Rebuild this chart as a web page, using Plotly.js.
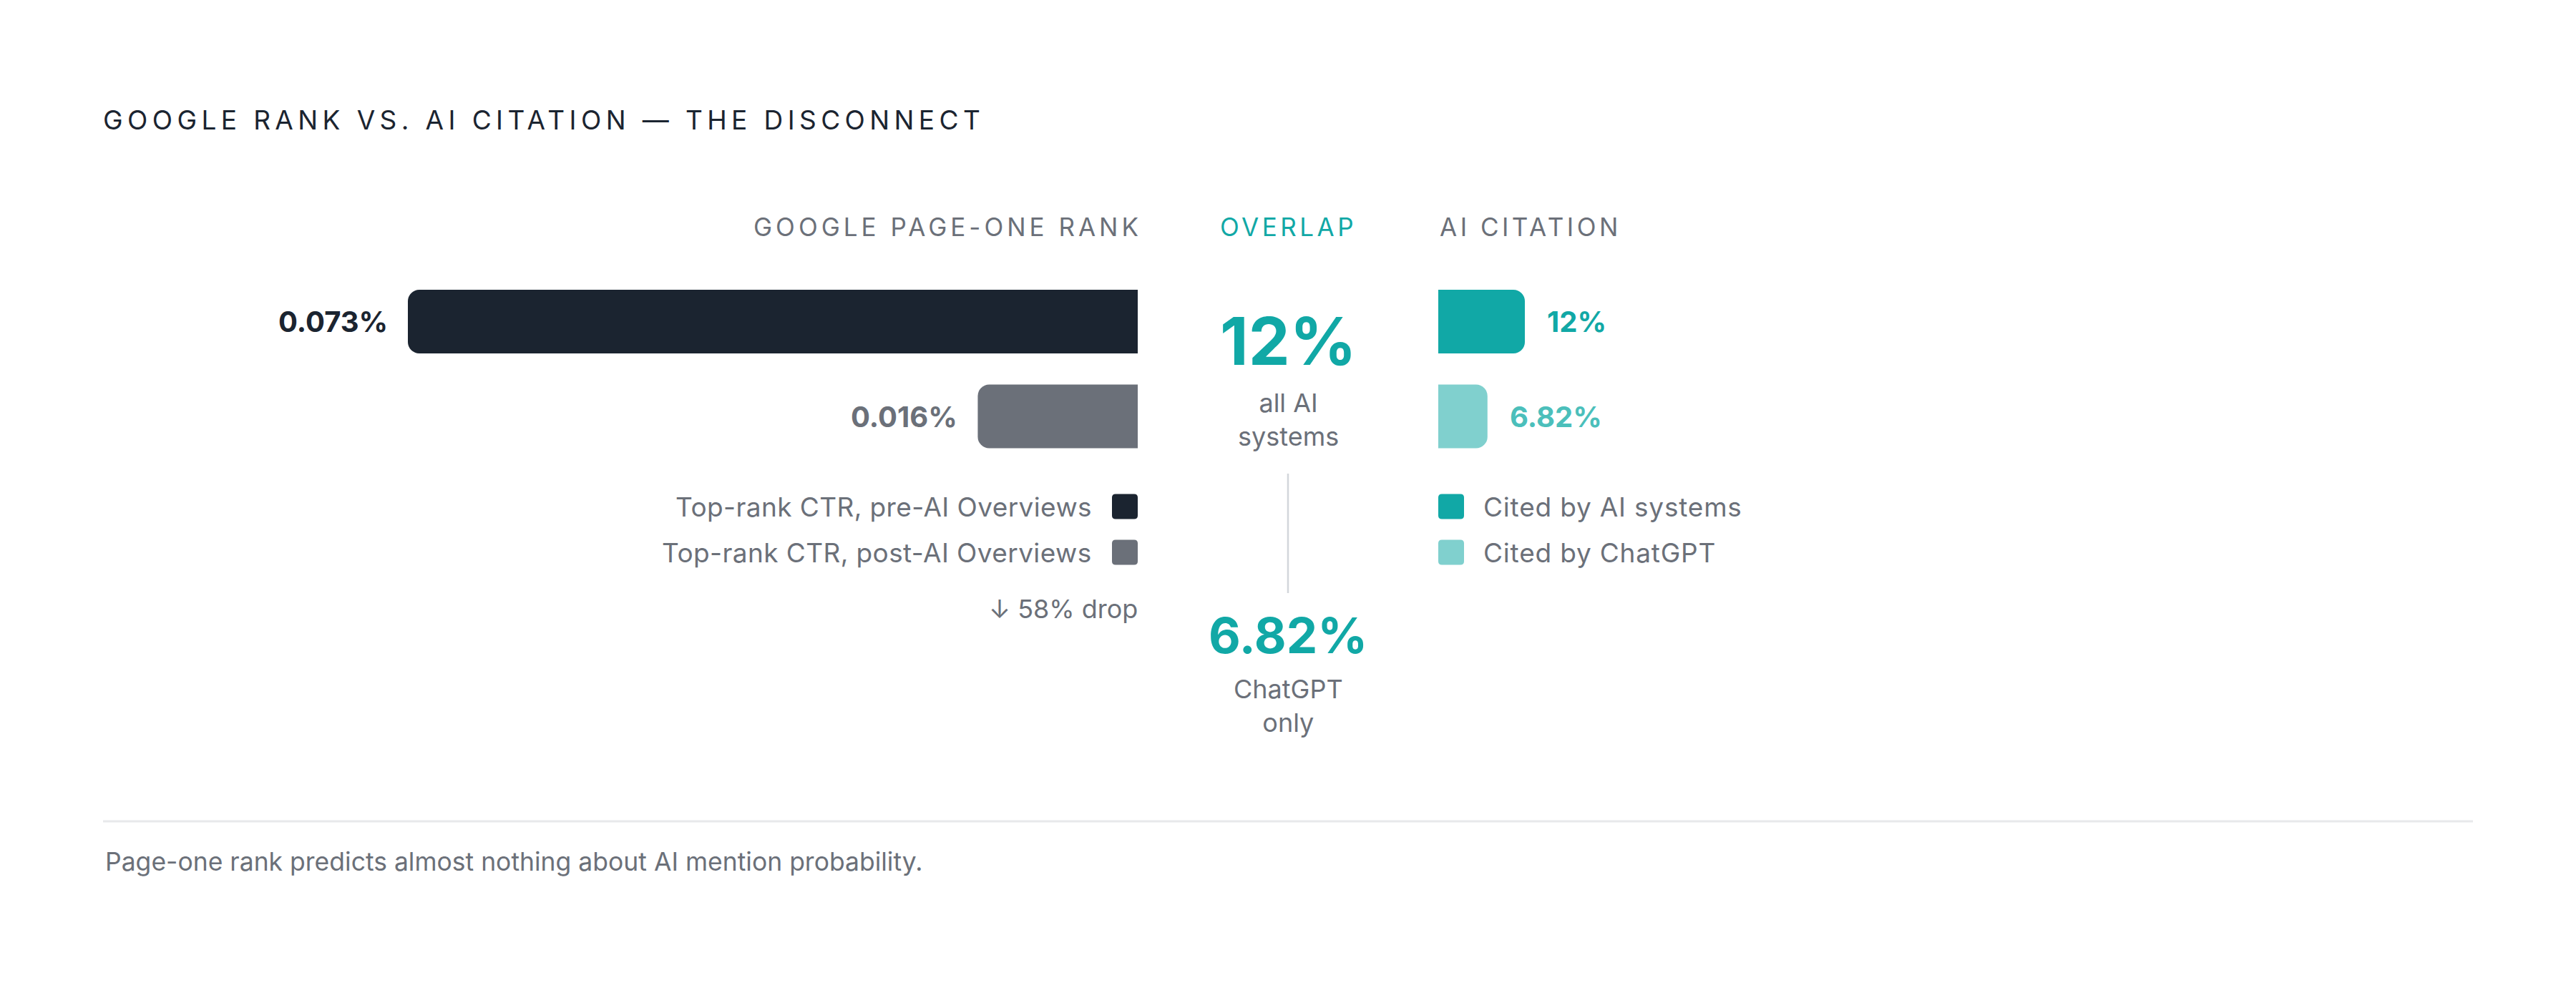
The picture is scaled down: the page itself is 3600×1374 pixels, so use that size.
<!DOCTYPE html>
<html>
<head>
<meta charset="utf-8">
<script src="https://cdn.plot.ly/plotly-3.0.1.min.js"></script>
<style>
  html, body { margin: 0; padding: 0; background: #fff; }
  #chart { width: 3600px; height: 1374px; }
</style>
</head>
<body>
<div id="chart"></div>
<script>
// data
var rankLabels = ["Top-rank CTR, pre-AI Overviews", "Top-rank CTR, post-AI Overviews"];
var rankCTR = [0.073, 0.016];
var rankColors = ["#1b2430", "#6b7079"];
var rankLabelColors = ["#1b2430", "#6b7079"];

var citeLabels = ["Cited by AI systems", "Cited by ChatGPT"];
var citeRate = [12, 6.82];
var citeColors = ["#11a8a6", "#80d0ce"];
var citeLabelColors = ["#11a8a6", "#4bbfbb"];

var overlapNotes = ["all AI<br>systems", "ChatGPT<br>only"];
var dropNote = "↓ 58% drop";

var W = 3600, H = 1374;
var FONT = "Inter, 'DejaVu Sans', sans-serif";
var GRAY = "#6b7079";
var TEAL = "#11a8a6";
var DARK = "#1b2430";

// pixel -> paper helpers
function px(x) { return x / W; }
function py(y) { return 1 - y / H; }

// rounded rect path in paper coords (input in px)
function roundRect(x0, y0, x1, y1, r) {
  var p = function (x, y) { return px(x) + "," + py(y); };
  return "M" + p(x0 + r, y0) + " L" + p(x1 - r, y0) + " Q" + p(x1, y0) + " " + p(x1, y0 + r) +
    " L" + p(x1, y1 - r) + " Q" + p(x1, y1) + " " + p(x1 - r, y1) +
    " L" + p(x0 + r, y1) + " Q" + p(x0, y1) + " " + p(x0, y1 - r) +
    " L" + p(x0, y0 + r) + " Q" + p(x0, y0) + " " + p(x0 + r, y0) + " Z";
}

function spaced(txt, ls) {
  return '<span style="letter-spacing:' + ls + 'px">' + txt + "</span>";
}

// bar rows sit 132.5px apart, first one centred at y=449.5
var rowStep = 132.5, rowTop = 449.5;
var yRange = [(H - rowTop) / rowStep, -rowTop / rowStep];
var barW = 89 / rowStep;

var traces = [
  {
    type: "bar", orientation: "h",
    x: rankCTR, y: rankLabels,
    xaxis: "x", yaxis: "y",
    width: barW,
    marker: { color: rankColors, cornerradius: 16, line: { width: 0 } },
    cliponaxis: false, hoverinfo: "skip"
  },
  {
    type: "bar", orientation: "h",
    x: citeRate, y: citeLabels,
    xaxis: "x2", yaxis: "y2",
    width: barW,
    marker: { color: citeColors, cornerradius: 16, line: { width: 0 } },
    cliponaxis: false, hoverinfo: "skip"
  }
];

var annotations = [];
var shapes = [];

// column headers
annotations.push({ xref: "paper", yref: "paper", x: px(1598), y: py(317), xanchor: "right", yanchor: "middle",
  text: spaced("GOOGLE PAGE-ONE RANK", 5), showarrow: false, font: { family: FONT, size: 35, color: GRAY } });
annotations.push({ xref: "paper", yref: "paper", x: px(1800), y: py(317), xanchor: "center", yanchor: "middle",
  text: spaced("OVERLAP", 4.5), showarrow: false, font: { family: FONT, size: 35, color: TEAL } });
annotations.push({ xref: "paper", yref: "paper", x: px(2010), y: py(317), xanchor: "left", yanchor: "middle",
  text: spaced("AI CITATION", 4.5), showarrow: false, font: { family: FONT, size: 35, color: GRAY } });

// value labels next to bars
rankCTR.forEach(function (v, i) {
  annotations.push({ xref: "x", yref: "y", x: v, y: i, xanchor: "right", yanchor: "middle", xshift: -26,
    text: "<b>" + v.toFixed(3) + "%</b>", showarrow: false,
    font: { family: FONT, size: 40, color: rankLabelColors[i] } });
});
citeRate.forEach(function (v, i) {
  annotations.push({ xref: "x2", yref: "y2", x: v, y: i, xanchor: "left", yanchor: "middle", xshift: 29,
    text: "<b>" + v + "%</b>", showarrow: false,
    font: { family: FONT, size: 40, color: citeLabelColors[i] } });
});

// overlap column
annotations.push({ xref: "paper", yref: "paper", x: px(1800), y: py(476), xanchor: "center", yanchor: "middle",
  text: "<b>" + citeRate[0] + "%</b>", showarrow: false, font: { family: FONT, size: 92, color: TEAL } });
annotations.push({ xref: "paper", yref: "paper", x: px(1800), y: py(586), xanchor: "center", yanchor: "middle",
  text: overlapNotes[0], showarrow: false, font: { family: FONT, size: 36, color: GRAY } });
annotations.push({ xref: "paper", yref: "paper", x: px(1800), y: py(888), xanchor: "center", yanchor: "middle",
  text: "<b>" + citeRate[1] + "%</b>", showarrow: false, font: { family: FONT, size: 69, color: TEAL } });
annotations.push({ xref: "paper", yref: "paper", x: px(1800), y: py(986), xanchor: "center", yanchor: "middle",
  text: overlapNotes[1], showarrow: false, font: { family: FONT, size: 36, color: GRAY } });
shapes.push({ type: "line", xref: "paper", yref: "paper", x0: px(1800), x1: px(1800), y0: py(662), y1: py(829),
  line: { color: "#d3d6db", width: 2.5 } });

// legends
var legRows = [708, 772];
rankLabels.forEach(function (lab, i) {
  annotations.push({ xref: "paper", yref: "paper", x: px(1528), y: py(legRows[i]), xanchor: "right", yanchor: "middle",
    text: spaced(lab, 0.4), showarrow: false, font: { family: FONT, size: 37, color: GRAY } });
  shapes.push({ type: "path", xref: "paper", yref: "paper", path: roundRect(1554, legRows[i] - 17.5, 1590, legRows[i] + 17.5, 5),
    fillcolor: rankColors[i], line: { width: 0 } });
});
citeLabels.forEach(function (lab, i) {
  annotations.push({ xref: "paper", yref: "paper", x: px(2071), y: py(legRows[i]), xanchor: "left", yanchor: "middle",
    text: spaced(lab, 0.8), showarrow: false, font: { family: FONT, size: 37, color: GRAY } });
  shapes.push({ type: "path", xref: "paper", yref: "paper", path: roundRect(2010, legRows[i] - 17.5, 2046, legRows[i] + 17.5, 5),
    fillcolor: citeColors[i], line: { width: 0 } });
});
annotations.push({ xref: "paper", yref: "paper", x: px(1592), y: py(851), xanchor: "right", yanchor: "middle",
  text: dropNote, showarrow: false, font: { family: FONT, size: 36, color: GRAY } });

// footer
shapes.push({ type: "line", xref: "paper", yref: "paper", x0: px(144), x1: px(3456), y0: py(1148), y1: py(1148),
  line: { color: "#e8e9eb", width: 3 } });
annotations.push({ xref: "paper", yref: "paper", x: px(145), y: py(1204), xanchor: "left", yanchor: "middle",
  text: "Page-one rank predicts almost nothing about AI mention probability.", showarrow: false,
  font: { family: FONT, size: 35.5, color: GRAY } });

var hidden = { visible: false, showgrid: false, zeroline: false, fixedrange: true };

var layout = {
  width: W, height: H,
  margin: { l: 0, r: 0, t: 0, b: 0, pad: 0 },
  paper_bgcolor: "#ffffff",
  plot_bgcolor: "rgba(0,0,0,0)",
  showlegend: false,
  hovermode: false,
  title: {
    text: spaced("GOOGLE RANK VS. AI CITATION — THE DISCONNECT", 6.4),
    xref: "paper", yref: "paper",
    x: px(144), xanchor: "left",
    y: py(168), yanchor: "middle",
    font: { family: FONT, size: 37, color: DARK }
  },
  xaxis: Object.assign({ domain: [px(570), px(1590)], range: [0.073, 0], anchor: "y" }, hidden),
  yaxis: Object.assign({ domain: [0, 1], type: "category", categoryorder: "array", categoryarray: rankLabels,
    range: yRange, anchor: "x" }, hidden),
  // 12% -> 121px wide
  xaxis2: Object.assign({ domain: [px(2010), px(2131)], range: [0, 12], anchor: "y2" }, hidden),
  yaxis2: Object.assign({ domain: [0, 1], type: "category", categoryorder: "array", categoryarray: citeLabels,
    range: yRange, anchor: "x2" }, hidden),
  annotations: annotations,
  shapes: shapes
};

Plotly.newPlot("chart", traces, layout, { displayModeBar: false, staticPlot: true });
</script>
</body>
</html>
